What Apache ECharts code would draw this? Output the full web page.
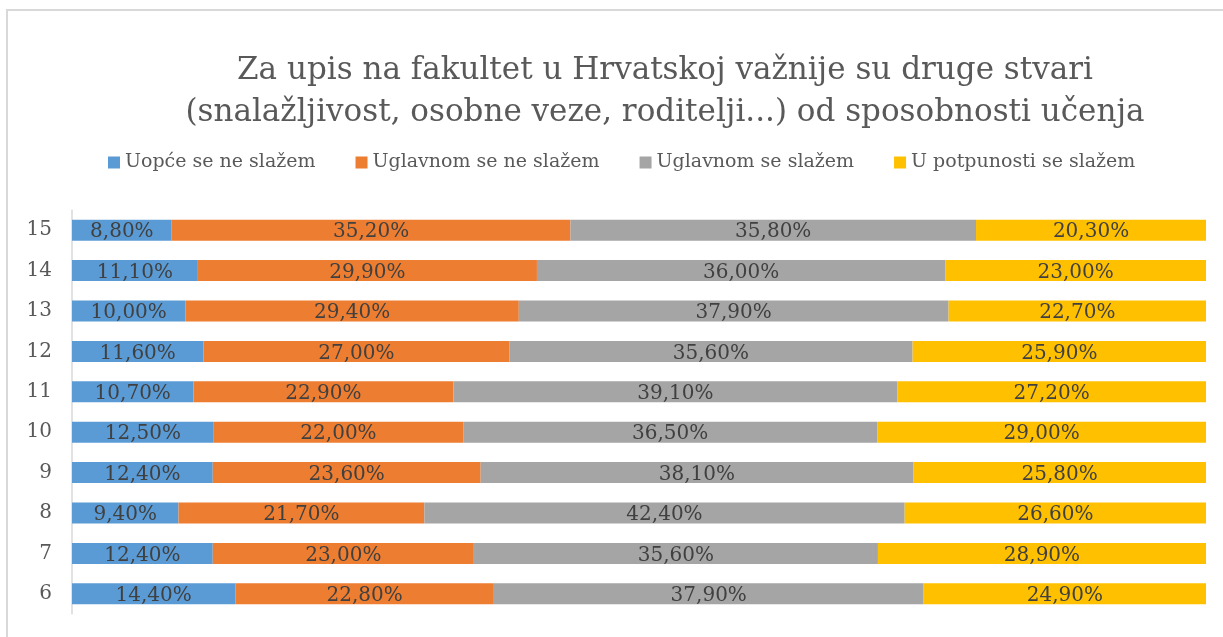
<!DOCTYPE html>
<html>
<head>
<meta charset="utf-8">
<script src="https://cdn.jsdelivr.net/npm/echarts@6/dist/echarts.min.js"></script>
<style>
  html, body { margin: 0; padding: 0; background: #fff; }
  #frame {
    position: absolute; left: 6px; top: 9px; width: 1300px; height: 700px;
    border-top: 2px solid #d9d9d9; border-left: 2px solid #d9d9d9;
  }
  #main { position: absolute; left: 0; top: 0; width: 1223px; height: 637px; }
</style>
</head>
<body>
<div id="frame"></div>
<div id="main"></div>
<script>
// kategorije (razredi), odozdo prema gore
const categories = ['6', '7', '8', '9', '10', '11', '12', '13', '14', '15'];

const seriesNames = ['Uopće se ne slažem', 'Uglavnom se ne slažem', 'Uglavnom se slažem', 'U potpunosti se slažem'];
const colors = ['#5b9bd5', '#ed7d31', '#a5a5a5', '#ffc000'];

const uopceNe = [14.4, 12.4, 9.4, 12.4, 12.5, 10.7, 11.6, 10.0, 11.1, 8.8];
const uglavnomNe = [22.8, 23.0, 21.7, 23.6, 22.0, 22.9, 27.0, 29.4, 29.9, 35.2];
const uglavnomDa = [37.9, 35.6, 42.4, 38.1, 36.5, 39.1, 35.6, 37.9, 36.0, 35.8];
const potpunoDa = [24.9, 28.9, 26.6, 25.8, 29.0, 27.2, 25.9, 22.7, 23.0, 20.3];

const raw = [uopceNe, uglavnomNe, uglavnomDa, potpunoDa];
// 100% stacked: normaliziraj svaki redak
const totals = categories.map((c, i) => raw.reduce((s, arr) => s + arr[i], 0));

const font = '"DejaVu Serif", serif';

let myChart = echarts.init(document.getElementById('main'));
myChart.setOption({
  animation: false,
  textStyle: { fontFamily: font },
  title: {
    text: 'Za upis na fakultet u Hrvatskoj važnije su druge stvari\n(snalažljivost, osobne veze, roditelji...) od sposobnosti učenja',
    left: 660,
    textAlign: 'center',
    top: 45,
    textStyle: { fontFamily: font, fontSize: 31, fontWeight: 'normal', color: '#595959', lineHeight: 42 }
  },
  legend: {
    top: 148,
    left: 103,
    itemWidth: 12,
    itemHeight: 12,
    itemGap: 40,
    icon: 'rect',
    textStyle: { fontFamily: font, fontSize: 19, color: '#595959' },
    data: seriesNames
  },
  grid: { left: 72, right: 17, top: 210, bottom: 23, containLabel: false },
  xAxis: {
    type: 'value', min: 0, max: 100,
    show: false
  },
  yAxis: {
    type: 'category',
    data: categories,
    axisTick: { show: false },
    axisLine: { show: true, lineStyle: { color: '#d9d9d9', width: 1.5 } },
    axisLabel: { fontFamily: font, fontSize: 20, color: '#595959', margin: 20 }
  },
  series: raw.map((arr, k) => ({
    name: seriesNames[k],
    type: 'bar',
    stack: 'total',
    barWidth: '52%',
    itemStyle: { color: colors[k] },
    label: {
      show: true,
      position: 'inside',
      offset: [0, 2],
      fontFamily: font,
      fontSize: 20,
      color: '#404040',
      formatter: p => arr[p.dataIndex].toFixed(2).replace('.', ',') + '%'
    },
    data: arr.map((v, i) => v / totals[i] * 100)
  }))
});
</script>
</body>
</html>
